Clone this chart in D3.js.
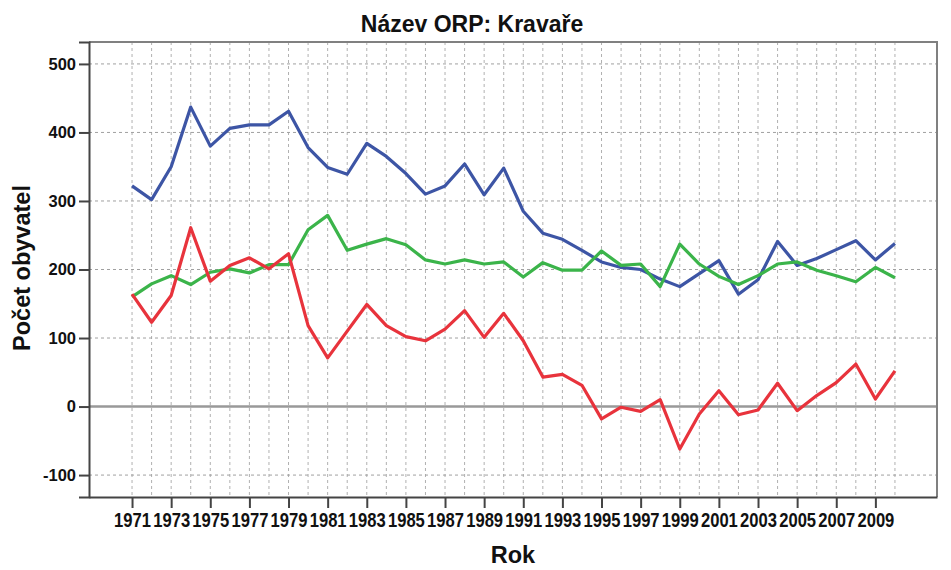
<!DOCTYPE html>
<html>
<head>
<meta charset="utf-8">
<script src="https://cdn.jsdelivr.net/npm/d3@7"></script>
<style>
  body { margin: 0; background: #fff; }
  svg { font-family: "Liberation Sans", Arial, sans-serif; font-weight: bold; }
</style>
</head>
<body>
<svg width="951" height="570"></svg>
<script>
const years = d3.range(1971, 2011);

const blue = [322, 302, 350, 437, 380, 406, 411, 411, 431, 378,
              349, 339, 384, 365, 340, 310, 322, 354, 309, 348,
              285, 253, 244, 228, 211, 203, 200, 186, 175, 194,
              213, 164, 185, 241, 206, 216, 229, 242, 214, 238];

const green = [160, 179, 191, 178, 196, 201, 195, 207, 207, 258,
               279, 228, 237, 245, 236, 214, 208, 214, 208, 211,
               189, 210, 199, 199, 227, 206, 208, 175, 237, 208,
               190, 178, 191, 208, 211, 199, 191, 182, 203, 188];

const red = [164, 123, 162, 261, 183, 206, 217, 201, 223, 118,
             71, 110, 149, 118, 102, 96, 113, 140, 101, 136,
             96, 43, 47, 31, -18, -1, -7, 10, -62, -11,
             23, -12, -5, 34, -6, 16, 35, 62, 11, 52];

const yTicks = [-100, 0, 100, 200, 300, 400, 500];
const xLabelYears = years.filter(y => y % 2 == 1);

const svg = d3.select("svg");
const plot = {left: 89, right: 937, top: 42, bottom: 497};

const x = d3.scaleLinear().domain([1968.8, 2012.15]).range([plot.left, plot.right]);
const y = d3.scaleLinear().domain([-132, 532]).range([plot.bottom, plot.top]);

// grid
svg.append("g").selectAll("line").data(years).join("line")
  .attr("x1", d => x(d)).attr("x2", d => x(d))
  .attr("y1", plot.top).attr("y2", plot.bottom)
  .attr("stroke", "#b0b0b0").attr("stroke-dasharray", "3,3");

svg.append("g").selectAll("line").data(yTicks.filter(d => d != 0)).join("line")
  .attr("x1", plot.left).attr("x2", plot.right)
  .attr("y1", d => y(d)).attr("y2", d => y(d))
  .attr("stroke", "#a0a0a0").attr("stroke-dasharray", "3,3");

// zero line
svg.append("line")
  .attr("x1", plot.left).attr("x2", plot.right)
  .attr("y1", y(0)).attr("y2", y(0))
  .attr("stroke", "#999").attr("stroke-width", 2.5);

// frame top/right
svg.append("path")
  .attr("d", `M${plot.left},${plot.top}H${plot.right}V${plot.bottom}`)
  .attr("fill", "none").attr("stroke", "#808080").attr("stroke-width", 2);

// lines
const line = d3.line().x((d, i) => x(years[i])).y(d => y(d));
[[blue, "#3d55a5"], [green, "#3bb44a"], [red, "#e8333c"]].forEach(([s, c]) => {
  svg.append("path")
    .datum(s)
    .attr("fill", "none")
    .attr("stroke", c)
    .attr("stroke-width", 3.2)
    .attr("stroke-linejoin", "round")
    .attr("d", line);
});

// axes
const yAxis = svg.append("g")
  .attr("transform", `translate(${plot.left},0)`)
  .call(d3.axisLeft(y).tickValues(yTicks).tickFormat(d => String(d)).tickSize(10).tickPadding(3));
yAxis.select(".domain").attr("stroke", "#444").attr("stroke-width", 2);
yAxis.selectAll(".tick line").attr("stroke", "#444").attr("stroke-width", 2);
yAxis.selectAll("text").attr("font-size", 16.5).attr("fill", "#111")
  .attr("font-family", "Liberation Sans, Arial, sans-serif").attr("font-weight", "bold");

const xAxis = svg.append("g")
  .attr("transform", `translate(0,${plot.bottom})`)
  .call(d3.axisBottom(x).tickValues(xLabelYears).tickFormat(d => String(d)).tickSize(11).tickSizeOuter(0).tickPadding(5));
xAxis.select(".domain").attr("stroke", "#444").attr("stroke-width", 2);
xAxis.selectAll(".tick line").attr("stroke", "#444").attr("stroke-width", 2);
// narrow, tall digits like the original
xAxis.selectAll("text").attr("font-size", 20).attr("fill", "#111")
  .attr("font-family", "Liberation Sans, Arial, sans-serif").attr("font-weight", "bold")
  .attr("transform", "scale(0.83,1)");

// titles
svg.append("text")
  .attr("x", 472).attr("y", 32)
  .attr("text-anchor", "middle")
  .attr("font-size", 23).attr("fill", "#111")
  .text("Název ORP: Kravaře");

svg.append("text")
  .attr("x", 513).attr("y", 563)
  .attr("text-anchor", "middle")
  .attr("font-size", 23.5).attr("fill", "#111")
  .text("Rok");

svg.append("text")
  .attr("transform", "translate(30,268) rotate(-90)")
  .attr("text-anchor", "middle")
  .attr("font-size", 23.5).attr("fill", "#111")
  .text("Počet obyvatel");
</script>
</body>
</html>
